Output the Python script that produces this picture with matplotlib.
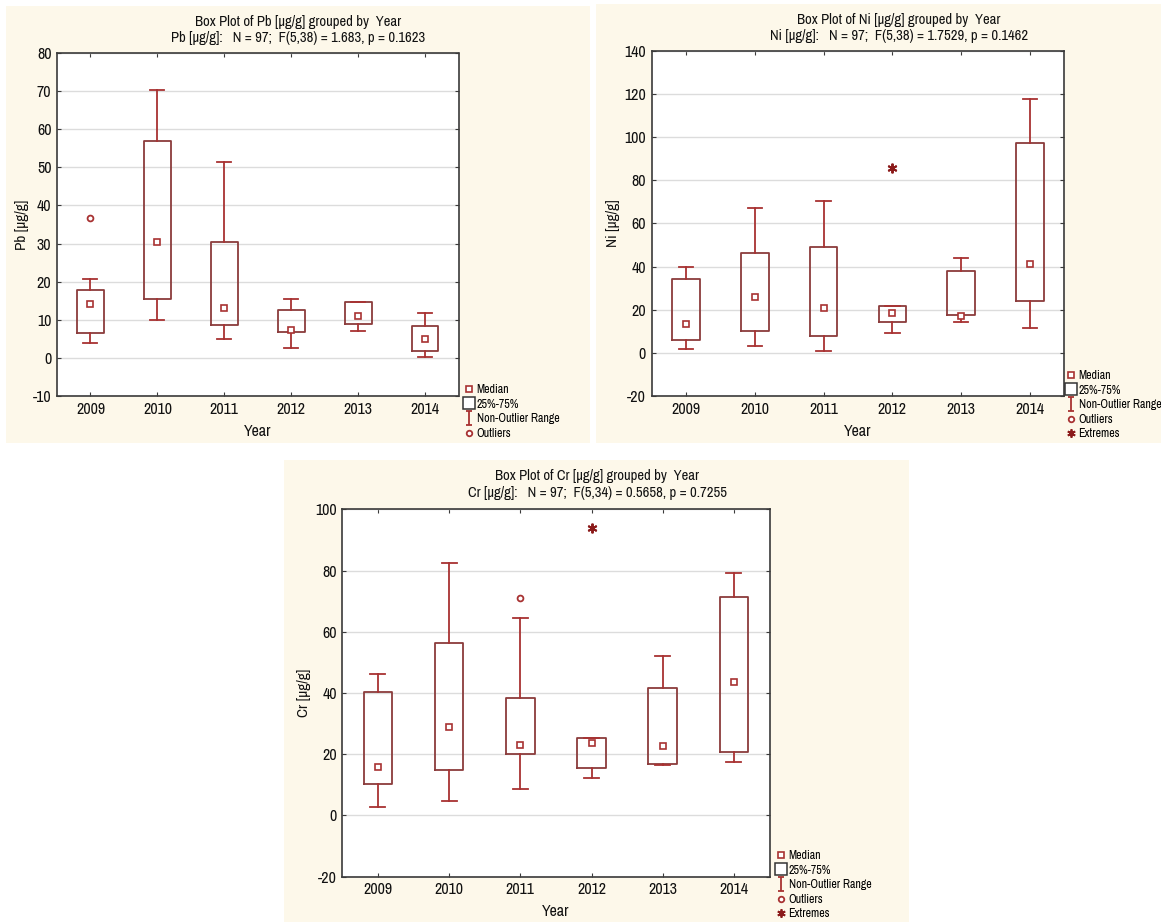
import matplotlib
matplotlib.use("Agg")
import matplotlib.pyplot as plt
from matplotlib.patches import Rectangle
from matplotlib.lines import Line2D
from matplotlib.path import Path

plt.rcParams['font.family'] = ['Archivo Narrow', 'Liberation Sans Narrow', 'Liberation Sans', 'DejaVu Sans']
plt.rcParams['axes.unicode_minus'] = False

W, H = 1161, 922

years = ['2009', '2010', '2011', '2012', '2013', '2014']

# Pb [µg/g]
pb_med = [14.1, 30.3, 13.2, 7.3, 11.0, 5.0]
pb_q1 = [6.4, 15.4, 8.6, 6.7, 9.0, 1.8]
pb_q3 = [17.9, 56.8, 30.4, 12.5, 14.7, 8.3]
pb_lo = [4.0, 10.0, 4.9, 2.5, 7.1, 0.3]
pb_hi = [20.8, 70.4, 51.5, 15.4, 14.7, 11.8]
pb_out = [[36.7], [], [], [], [], []]
pb_ext = [[], [], [], [], [], []]

# Ni [µg/g]
ni_med = [13.4, 26.1, 20.8, 18.7, 17.0, 41.2]
ni_q1 = [6.1, 10.0, 8.0, 14.5, 17.4, 24.1]
ni_q3 = [34.1, 46.2, 49.3, 21.6, 38.0, 97.2]
ni_lo = [1.8, 3.2, 1.0, 9.2, 14.2, 11.4]
ni_hi = [39.8, 67.2, 70.6, 21.6, 44.2, 117.7]
ni_out = [[], [], [], [], [], []]
ni_ext = [[], [], [], [85.9], [], []]

# Cr [µg/g]
cr_med = [15.8, 28.9, 23.0, 23.7, 22.7, 43.6]
cr_q1 = [10.4, 14.7, 20.2, 15.4, 16.9, 20.6]
cr_q3 = [40.4, 56.4, 38.5, 25.4, 41.7, 71.5]
cr_lo = [2.9, 4.8, 8.7, 12.4, 16.4, 17.3]
cr_hi = [46.3, 82.4, 64.6, 25.4, 52.0, 79.1]
cr_out = [[], [], [71.0], [], [], []]
cr_ext = [[], [], [], [94.0], [], []]

BG = '#fdf8ea'
BOXC = '#8b3c3c'
REDC = '#a83232'
EXTC = '#8b1a1a'
ASTER = (6, 2, 0)  # asterisk marker


def fx(x):
    return x / W


def fy(y):
    return 1 - y / H


def ibeam():
    verts = [(-0.5, 1), (0.5, 1), (0, 1), (0, -1), (-0.5, -1), (0.5, -1)]
    codes = [Path.MOVETO, Path.LINETO, Path.MOVETO, Path.LINETO, Path.MOVETO, Path.LINETO]
    return Path(verts, codes)


def panel(bg, box, tcx, ty, title1, title2, ylab, ylim, yticks,
          med, q1, q3, lo, hi, out, ext, leg_xy, extremes=True):
    fig.patches.append(Rectangle((fx(bg[0]), fy(bg[3])), fx(bg[2] - bg[0]), (bg[3] - bg[1]) / H,
                                 transform=fig.transFigure, facecolor=BG, edgecolor='none', zorder=-10))
    ax = fig.add_axes([fx(box[0]), fy(box[3]), fx(box[2] - box[0]), (box[3] - box[1]) / H])
    ax.set_facecolor('white')
    pos = list(range(1, len(years) + 1))
    stats = []
    for i in range(len(years)):
        stats.append(dict(med=med[i], q1=q1[i], q3=q3[i], whislo=lo[i], whishi=hi[i], fliers=[]))
    ax.bxp(stats, positions=pos, widths=0.4, capwidths=0.21, showfliers=False,
           boxprops=dict(color=BOXC, linewidth=1.3),
           whiskerprops=dict(color=REDC, linewidth=1.3),
           capprops=dict(color=REDC, linewidth=1.3),
           medianprops=dict(linewidth=0))
    ax.plot(pos, med, linestyle='none', marker='s', markersize=4.2, mfc='white', mec=REDC, mew=1.2, zorder=5)
    for p, vals in zip(pos, out):
        if vals:
            ax.plot([p] * len(vals), vals, linestyle='none', marker='o', markersize=4.2,
                    mfc='white', mec=REDC, mew=1.3, zorder=5)
    for p, vals in zip(pos, ext):
        if vals:
            ax.plot([p] * len(vals), vals, linestyle='none', marker=ASTER, markersize=7,
                    mec=EXTC, mew=1.4, zorder=5)
    ax.set_xlim(0.5, len(years) + 0.5)
    ax.set_ylim(*ylim)
    ax.set_yticks(yticks)
    ax.set_xticks(pos)
    ax.set_xticklabels(years)
    ax.yaxis.grid(True, color='#dcdcdc', linewidth=1)
    ax.set_axisbelow(True)
    for s in ax.spines.values():
        s.set_color('#3a3a3a')
        s.set_linewidth(1.2)
    ax.tick_params(direction='in', top=True, right=True, length=3, color='#3a3a3a',
                   labelsize=11.5, pad=4, labelcolor='#111111')
    ax.set_xlabel('Year', fontsize=11.5, labelpad=5, color='#111111')
    ax.set_ylabel(ylab, fontsize=11, labelpad=3, color='#111111')
    fig.text(fx(tcx), fy(ty[0]), title1, ha='center', va='center', fontsize=10.5, color='#111111')
    fig.text(fx(tcx), fy(ty[1]), title2, ha='center', va='center', fontsize=10.5, color='#111111')

    handles = [
        Line2D([], [], linestyle='none', marker='s', markersize=4, mfc='white', mec=REDC, mew=1.2),
        Line2D([], [], linestyle='none', marker='s', markersize=9, mfc='white', mec='#333333', mew=1.1),
        Line2D([], [], linestyle='none', marker=ibeam(), markersize=10, mec=REDC, mew=1.3),
        Line2D([], [], linestyle='none', marker='o', markersize=4, mfc='white', mec=REDC, mew=1.3),
    ]
    labels = ['Median', '25%-75%', 'Non-Outlier Range', 'Outliers']
    if extremes:
        handles.append(Line2D([], [], linestyle='none', marker=ASTER, markersize=6, mec=EXTC, mew=1.3))
        labels.append('Extremes')
    ax.legend(handles, labels, loc='upper left', bbox_to_anchor=(fx(leg_xy[0]), fy(leg_xy[1])),
              bbox_transform=fig.transFigure, frameon=False, fontsize=8.6, handlelength=0.9,
              handletextpad=0.15, labelspacing=0.3, borderpad=0, borderaxespad=0)
    return ax


fig = plt.figure(figsize=(W / 100, H / 100), dpi=100)
fig.patch.set_facecolor('white')

panel((6, 6, 590, 443), (57, 53, 458.5, 396), 298, (21.7, 37.7),
      'Box Plot of Pb [µg/g] grouped by  Year',
      'Pb [µg/g]:   N = 97;  F(5,38) = 1.683, p = 0.1623',
      'Pb [µg/g]', (-10, 80), list(range(-10, 81, 10)),
      pb_med, pb_q1, pb_q3, pb_lo, pb_hi, pb_out, pb_ext, (464, 384), extremes=False)

panel((596, 4, 1161, 443), (651.6, 51, 1064.2, 396), 899, (19.7, 36.3),
      'Box Plot of Ni [µg/g] grouped by  Year',
      'Ni [µg/g]:   N = 97;  F(5,38) = 1.7529, p = 0.1462',
      'Ni [µg/g]', (-20, 140), list(range(-20, 141, 20)),
      ni_med, ni_q1, ni_q3, ni_lo, ni_hi, ni_out, ni_ext, (1066, 370))

panel((284, 460, 909, 922), (342.3, 509.3, 769.5, 876.7), 597, (475.7, 493.3),
      'Box Plot of Cr [µg/g] grouped by  Year',
      'Cr [µg/g]:   N = 97;  F(5,34) = 0.5658, p = 0.7255',
      'Cr [µg/g]', (-20, 100), list(range(-20, 101, 20)),
      cr_med, cr_q1, cr_q3, cr_lo, cr_hi, cr_out, cr_ext, (776, 850))

fig.savefig('out.png', dpi=100, facecolor=fig.get_facecolor())
